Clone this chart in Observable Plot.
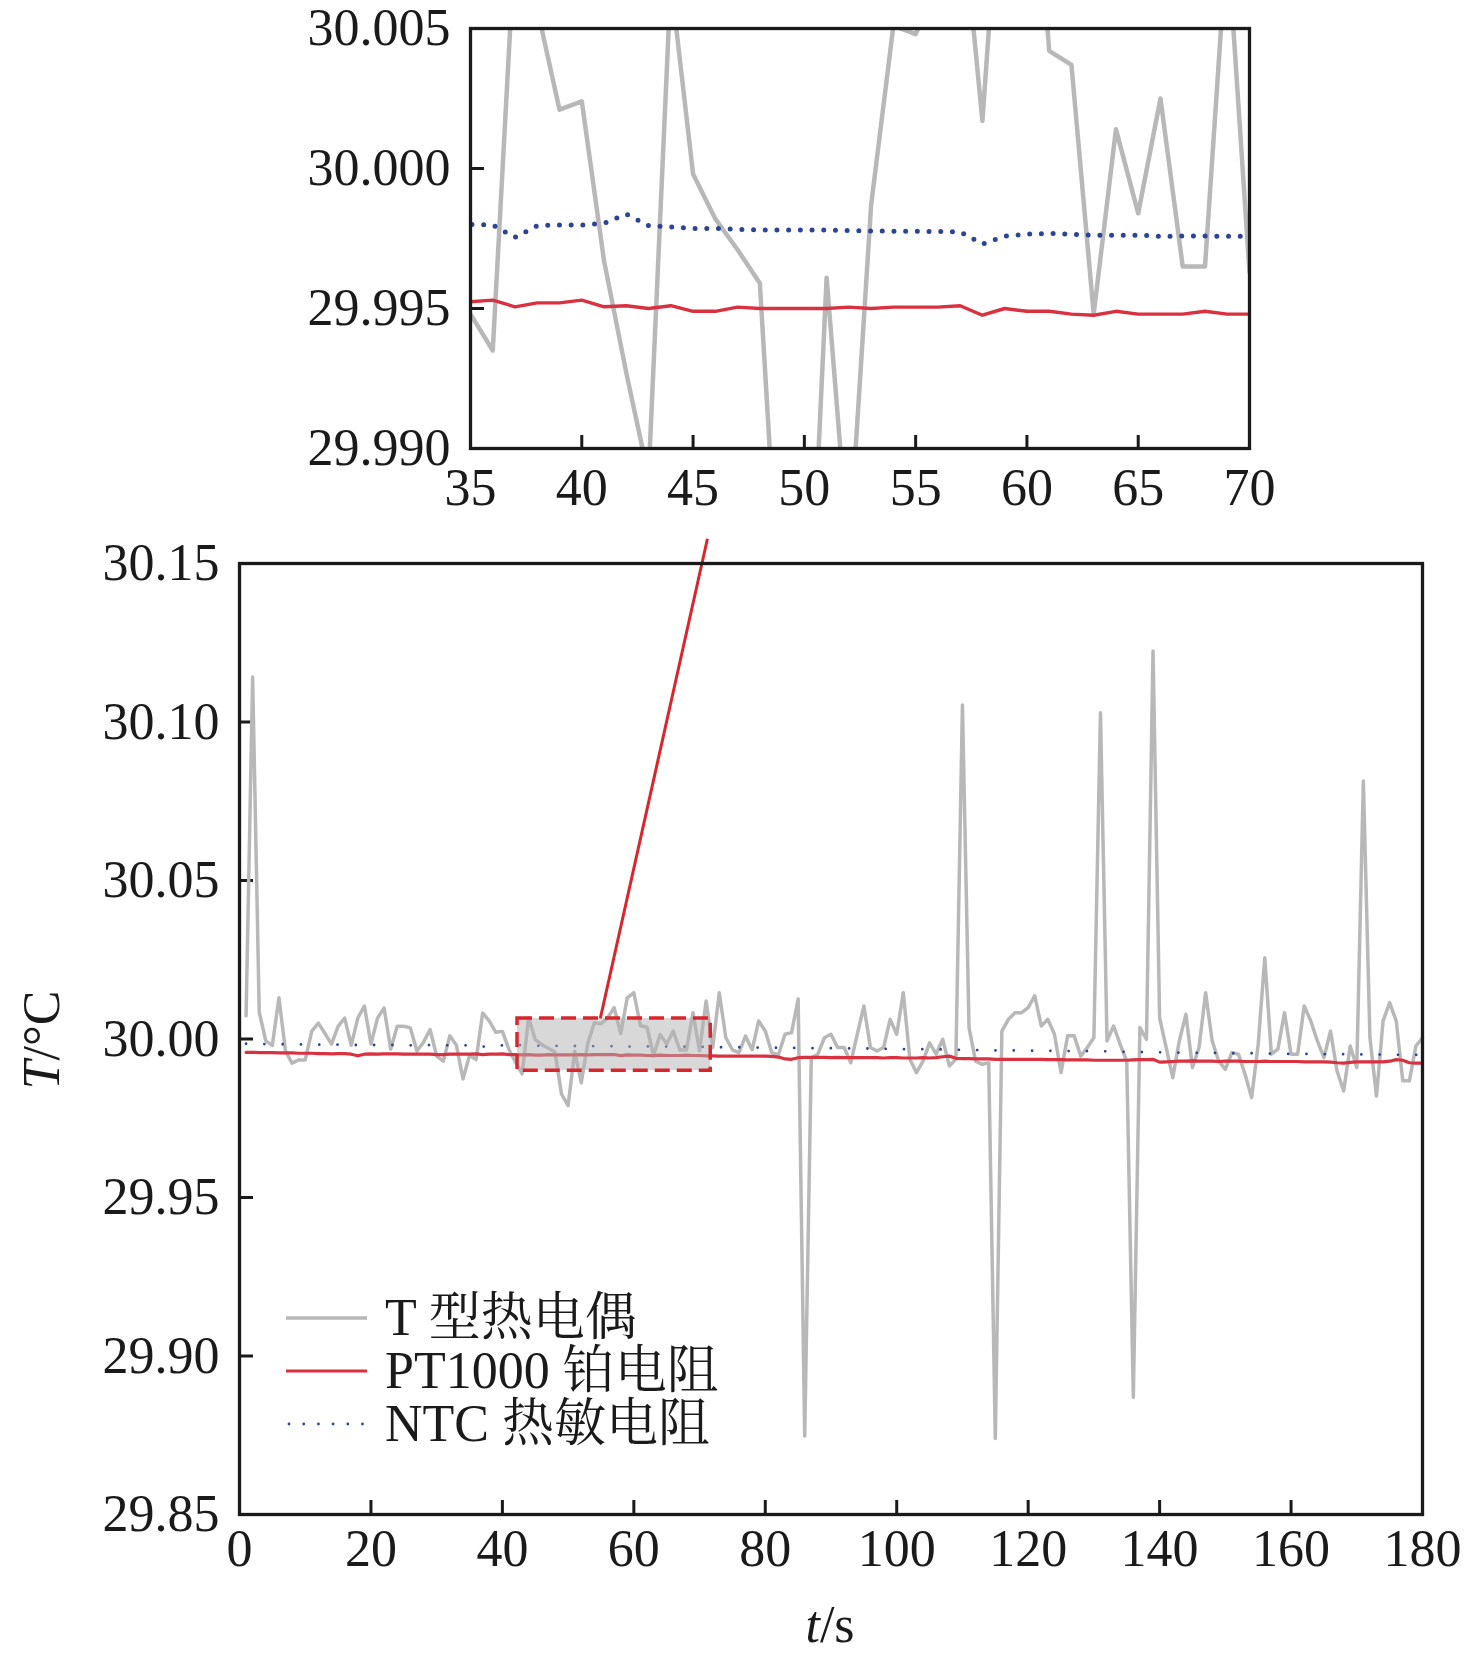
<!DOCTYPE html>
<html>
<head>
<meta charset="utf-8">
<script src="https://cdn.jsdelivr.net/npm/d3@7"></script>
<script src="https://cdn.jsdelivr.net/npm/@observablehq/plot@0.6"></script>
<style>
  html, body { margin: 0; padding: 0; background: #fff; }
  #wrap { position: relative; width: 1476px; height: 1653px; overflow: hidden; background: #fff; }
  #wrap > svg { position: absolute; left: 0; top: 0; max-width: none; }
  .lbl { position: absolute; font-family: "Liberation Serif", "Times New Roman", serif; font-size: 52px; color: #1a1a1a; white-space: nowrap; line-height: 52px; }
  .leg { position: absolute; left: 286px; height: 52px; display: flex; align-items: center; font-family: "Liberation Serif", "Noto Serif CJK SC", "Noto Sans CJK SC", serif; font-size: 52px; color: #1a1a1a; white-space: nowrap; line-height: 52px; }
  #wrap .leg svg { position: static; display: block; margin-right: 17px; flex: none; }
</style>
</head>
<body>
<div id="wrap"></div>
<script>
// ---- data (t in s, temperatures in °C) ----
const times = d3.range(1, 181);
const tc = [
30.0073, 30.1142, 30.0085, 29.9994, 29.9980, 30.0130, 29.9962, 29.9924, 29.9934, 29.9934,
30.0025, 30.0050, 30.0018, 29.9984, 30.0040, 30.0066, 29.9980, 30.0066, 30.0104, 29.9984,
30.0066, 30.0098, 29.9968, 30.0040, 30.0040, 30.0035, 29.9962, 29.9990, 30.0030, 29.9946,
29.9930, 30.0010, 29.9980, 29.9874, 29.9948, 29.9935, 30.0082, 30.0057, 30.0021, 30.0024,
29.9967, 29.9927, 29.9890, 30.0067, 29.9998, 29.9982, 29.9971, 29.9959, 29.9826, 29.9790,
29.9961, 29.9862, 29.9987, 30.0051, 30.0048, 30.0066, 30.0099, 30.0017, 30.0130, 30.0146,
30.0042, 30.0037, 29.9948, 30.0014, 29.9984, 30.0025, 29.9965, 29.9965, 30.0083, 29.9963,
30.0120, 29.9973, 30.0146, 30.0004, 29.9966, 29.9957, 30.0009, 29.9966, 30.0057, 30.0025,
29.9957, 29.9950, 30.0015, 30.0020, 30.0126, 29.8748, 29.9941, 29.9952, 30.0004, 30.0015,
29.9973, 29.9973, 29.9925, 30.0015, 30.0104, 29.9973, 29.9962, 29.9973, 30.0062, 30.0015,
30.0146, 29.9936, 29.9894, 29.9930, 29.9988, 29.9952, 29.9999, 29.9915, 29.9936, 30.1054,
30.0036, 29.9930, 29.9920, 29.9925, 29.8740, 30.0025, 30.0062, 30.0083, 30.0083, 30.0099,
30.0136, 30.0041, 30.0062, 30.0015, 29.9894, 30.0010, 30.0010, 29.9946, 29.9973, 30.0004,
30.1029, 29.9994, 30.0041, 29.9983, 29.9930, 29.8870, 30.0036, 29.9999, 30.1224, 30.0067,
29.9973, 29.9878, 29.9994, 30.0078, 29.9910, 29.9973, 30.0146, 29.9994, 29.9930, 29.9904,
29.9957, 29.9952, 29.9889, 29.9815, 29.9983, 30.0256, 29.9952, 29.9968, 30.0083, 29.9952,
29.9952, 30.0104, 30.0057, 29.9994, 29.9941, 30.0025, 29.9899, 29.9836, 29.9978, 29.9910,
30.0814, 30.0004, 29.9820, 30.0057, 30.0115, 30.0057, 29.9868, 29.9868, 29.9978, 30.0004
];
const pt = [
29.9958, 29.9958, 29.9957, 29.9957, 29.9957, 29.9956, 29.9956, 29.9956, 29.9955, 29.9955,
29.9955, 29.9954, 29.9954, 29.9953, 29.9954, 29.9954, 29.9952, 29.9947, 29.9952, 29.9953,
29.9952, 29.9953, 29.9953, 29.9953, 29.9952, 29.9952, 29.9952, 29.9952, 29.9952, 29.9951,
29.9951, 29.9952, 29.9952, 29.9952, 29.99524, 29.9953, 29.99506, 29.9952, 29.9952, 29.9953,
29.99506, 29.9951, 29.9950, 29.9951, 29.9949, 29.9949, 29.99505, 29.9950, 29.9950, 29.9950,
29.9950, 29.99505, 29.9950, 29.99505, 29.99505, 29.99505, 29.9951, 29.99476, 29.9950, 29.9949,
29.9949, 29.9948, 29.99476, 29.9949, 29.9948, 29.9948, 29.9948, 29.9949, 29.9948, 29.9948,
29.9947, 29.9947, 29.9946, 29.9946, 29.9946, 29.9946, 29.9946, 29.9946, 29.9946, 29.9946,
29.9945, 29.9943, 29.9937, 29.9936, 29.9941, 29.9942, 29.9942, 29.9942, 29.9942, 29.9941,
29.9942, 29.9941, 29.9941, 29.9941, 29.9941, 29.9941, 29.9941, 29.9940, 29.9941, 29.9941,
29.9940, 29.9940, 29.9940, 29.9941, 29.9940, 29.9941, 29.9944, 29.9946, 29.9939, 29.9938,
29.9938, 29.9937, 29.9937, 29.9937, 29.9936, 29.9936, 29.9936, 29.9936, 29.9936, 29.9936,
29.9936, 29.9936, 29.9935, 29.9935, 29.9935, 29.9934, 29.9934, 29.9934, 29.9934, 29.9933,
29.9933, 29.9933, 29.9933, 29.9933, 29.9933, 29.9934, 29.9935, 29.9935, 29.9936, 29.9927,
29.9928, 29.9929, 29.9930, 29.9930, 29.9931, 29.9930, 29.9930, 29.9930, 29.9929, 29.9930,
29.9930, 29.9930, 29.9929, 29.9929, 29.9929, 29.9930, 29.9929, 29.9929, 29.9929, 29.9929,
29.9929, 29.9928, 29.9928, 29.9928, 29.9928, 29.9927, 29.9925, 29.9924, 29.9926, 29.9928,
29.9928, 29.9928, 29.9928, 29.9928, 29.9930, 29.9935, 29.9933, 29.9925, 29.9924, 29.9924
];
const ntc = [
29.9985, 29.9985, 29.9984, 29.9984, 29.9984, 29.9984, 29.9983, 29.9983, 29.9983, 29.9983,
29.9983, 29.9982, 29.9983, 29.9982, 29.9982, 29.9982, 29.9981, 29.9981, 29.9982, 29.9981,
29.9981, 29.9981, 29.9981, 29.9981, 29.9980, 29.9980, 29.9980, 29.9980, 29.9981, 29.9980,
29.9980, 29.9980, 29.9981, 29.9980, 29.9980, 29.99798, 29.99754, 29.99796, 29.99798, 29.99798,
29.99804, 29.99837, 29.99796, 29.99791, 29.99786, 29.99786, 29.99783, 29.9978, 29.9978, 29.9978,
29.9978, 29.99778, 29.99777, 29.99776, 29.99776, 29.99775, 29.99774, 29.9973, 29.99758, 29.99766,
29.99768, 29.99765, 29.99762, 29.99762, 29.99762, 29.99758, 29.99759, 29.99759, 29.99758, 29.99758,
29.9975, 29.9975, 29.9974, 29.9974, 29.9974, 29.9974, 29.9973, 29.9973, 29.9973, 29.9973,
29.9973, 29.9972, 29.9972, 29.9972, 29.9972, 29.9972, 29.9971, 29.9971, 29.9971, 29.9971,
29.9971, 29.9971, 29.9970, 29.9970, 29.9970, 29.9970, 29.9969, 29.9969, 29.9969, 29.9969,
29.9968, 29.9968, 29.9968, 29.9968, 29.9967, 29.9967, 29.9967, 29.9967, 29.9966, 29.9966,
29.9966, 29.9965, 29.9965, 29.9965, 29.9964, 29.9964, 29.9964, 29.9964, 29.9963, 29.9963,
29.9963, 29.9963, 29.9963, 29.9962, 29.9962, 29.9962, 29.9962, 29.9962, 29.9962, 29.9961,
29.9961, 29.9961, 29.9960, 29.9960, 29.9959, 29.9959, 29.9959, 29.9958, 29.9958, 29.9958,
29.9958, 29.9957, 29.9957, 29.9957, 29.9957, 29.9956, 29.9956, 29.9956, 29.9956, 29.9955,
29.9955, 29.9955, 29.9955, 29.9955, 29.9954, 29.9954, 29.9954, 29.9954, 29.9953, 29.9953,
29.9953, 29.9953, 29.9953, 29.9952, 29.9952, 29.9952, 29.9952, 29.9952, 29.9952, 29.9952,
29.9951, 29.9951, 29.9951, 29.9951, 29.9951, 29.9950, 29.9950, 29.9950, 29.9950, 29.9950
];
const seriesNames = ["T 型热电偶", "PT1000 铂电阻", "NTC 热敏电阻"];
const xTicks = [0, 20, 40, 60, 80, 100, 120, 140, 160, 180];
const yTicks = [29.85, 29.90, 29.95, 30.00, 30.05, 30.10, 30.15];
const insetXTicks = [35, 40, 45, 50, 55, 60, 65, 70];
const insetYTicks = [29.990, 29.995, 30.000, 30.005];
const insetXDomain = [35, 70];
const insetYDomain = [29.990, 30.005];
const zoomBox = [{x1: 42.3, x2: 71.7, y1: 29.990, y2: 30.0065}];
const connector = [{x1: 54.9, y1: 30.0065, x2: 71.2, y2: 30.1578}];

const rows = times.map((t, i) => ({t, tc: tc[i], pt: pt[i], ntc: ntc[i]}));

const C_GRAY = "#b8b8b8", C_RED = "#d93140", C_BLUE = "#2b4496", C_BOX = "#d9262c", C_TEXT = "#1a1a1a";
const FONT = "'Liberation Serif', 'Times New Roman', serif";
const FS = 52;
const wrap = document.getElementById("wrap");

// ---- main chart ----
const W = 1476, H = 1653;
const mL = 239, mR = 54, mT = 563, mB = 139;
const main = Plot.plot({
  width: W, height: H,
  marginLeft: mL, marginRight: mR, marginTop: mT, marginBottom: mB,
  x: {domain: [0, 180]},
  y: {domain: [29.85, 30.15]},
  style: {fontFamily: FONT, fontSize: FS + "px", background: "transparent", color: C_TEXT},
  marks: [
    Plot.axisX(xTicks, {tickSize: 0, tickPadding: 15, fontSize: FS, tickFormat: d => String(d), label: null, fill: C_TEXT}),
    Plot.axisY(yTicks, {tickSize: 0, tickPadding: 20, fontSize: FS, tickFormat: d => d.toFixed(2), label: null, fill: C_TEXT}),
    Plot.tickX(xTicks, {x: d => d, insetTop: H - mT - mB - 14, stroke: C_TEXT, strokeWidth: 3}),
    Plot.tickY(yTicks, {y: d => d, insetRight: W - mL - mR - 14, stroke: C_TEXT, strokeWidth: 3}),
    Plot.line(rows, {x: "t", y: "tc", stroke: C_GRAY, strokeWidth: 3.5}),
    Plot.line(rows, {x: "t", y: "pt", stroke: C_RED, strokeWidth: 3.2}),
    Plot.line(rows, {x: "t", y: "ntc", stroke: C_BLUE, strokeWidth: 2.8, strokeDasharray: "0 18.3", strokeLinecap: "round"}),
    Plot.rect(zoomBox, {x1: "x1", x2: "x2", y1: "y1", y2: "y2", fill: "#b1b1b1", fillOpacity: 0.5, stroke: C_BOX, strokeWidth: 3.5, strokeDasharray: "15 7"}),
    Plot.link(connector, {x1: "x1", y1: "y1", x2: "x2", y2: "y2", stroke: C_BOX, strokeWidth: 3}),
    Plot.frame({stroke: C_TEXT, strokeWidth: 3.3})
  ]
});
wrap.appendChild(main);

// ---- inset chart ----
const IW = 1476, IH = 530;
const iL = 470, iR = 227, iT = 28, iB = 82;
const inset = Plot.plot({
  width: IW, height: IH,
  marginLeft: iL, marginRight: iR, marginTop: iT, marginBottom: iB,
  x: {domain: insetXDomain},
  y: {domain: insetYDomain},
  style: {fontFamily: FONT, fontSize: FS + "px", background: "transparent", color: C_TEXT},
  marks: [
    Plot.axisX(insetXTicks, {tickSize: 0, tickPadding: 20, fontSize: FS, tickFormat: d => String(d), label: null, fill: C_TEXT}),
    Plot.axisY(insetYTicks, {tickSize: 0, tickPadding: 20, fontSize: FS, tickFormat: d => d.toFixed(3), label: null, fill: C_TEXT}),
    Plot.tickX(insetXTicks, {x: d => d, insetTop: IH - iT - iB - 13, stroke: C_TEXT, strokeWidth: 3}),
    Plot.tickY(insetYTicks, {y: d => d, insetRight: IW - iL - iR - 14, stroke: C_TEXT, strokeWidth: 3}),
    Plot.line(rows, {x: "t", y: "tc", stroke: C_GRAY, strokeWidth: 4.5, clip: true}),
    Plot.line(rows, {x: "t", y: "pt", stroke: C_RED, strokeWidth: 3.4, clip: true}),
    Plot.line(rows, {x: "t", y: "ntc", stroke: C_BLUE, strokeWidth: 5, strokeDasharray: "0 11.7", strokeLinecap: "round", clip: true}),
    Plot.frame({stroke: C_TEXT, strokeWidth: 3.3})
  ]
});
wrap.appendChild(inset);

// ---- axis titles ----
const yTitle = document.createElement("div");
yTitle.className = "lbl";
yTitle.innerHTML = "<i>T</i>/°C";
yTitle.style.left = "42px"; yTitle.style.top = "1040px";
yTitle.style.transform = "translate(-50%, -50%) rotate(-90deg)";
wrap.appendChild(yTitle);

const xTitle = document.createElement("div");
xTitle.className = "lbl";
xTitle.innerHTML = "<i>t</i>/s";
xTitle.style.left = "830px"; xTitle.style.top = "1625px";
xTitle.style.transform = "translate(-50%, -50%)";
wrap.appendChild(xTitle);

// ---- legend ----
const legendSpecs = [
  {name: seriesNames[0], color: C_GRAY, width: 3.5, dash: null, cy: 1318},
  {name: seriesNames[1], color: C_RED, width: 3.2, dash: null, cy: 1371},
  {name: seriesNames[2], color: C_BLUE, width: 2.8, dash: "0 14.7", cy: 1424}
];
legendSpecs.forEach(s => {
  const row = document.createElement("div");
  row.className = "leg";
  row.style.top = (s.cy - 26) + "px";
  const sw = d3.create("svg").attr("width", 82).attr("height", 52);
  sw.append("line").attr("x1", s.dash ? 3 : 0).attr("x2", 81).attr("y1", 26).attr("y2", 26)
    .attr("stroke", s.color).attr("stroke-width", s.width)
    .attr("stroke-dasharray", s.dash).attr("stroke-linecap", s.dash ? "round" : "butt");
  row.appendChild(sw.node());
  const tx = document.createElement("span");
  tx.textContent = s.name;
  row.appendChild(tx);
  wrap.appendChild(row);
});
</script>
</body>
</html>
